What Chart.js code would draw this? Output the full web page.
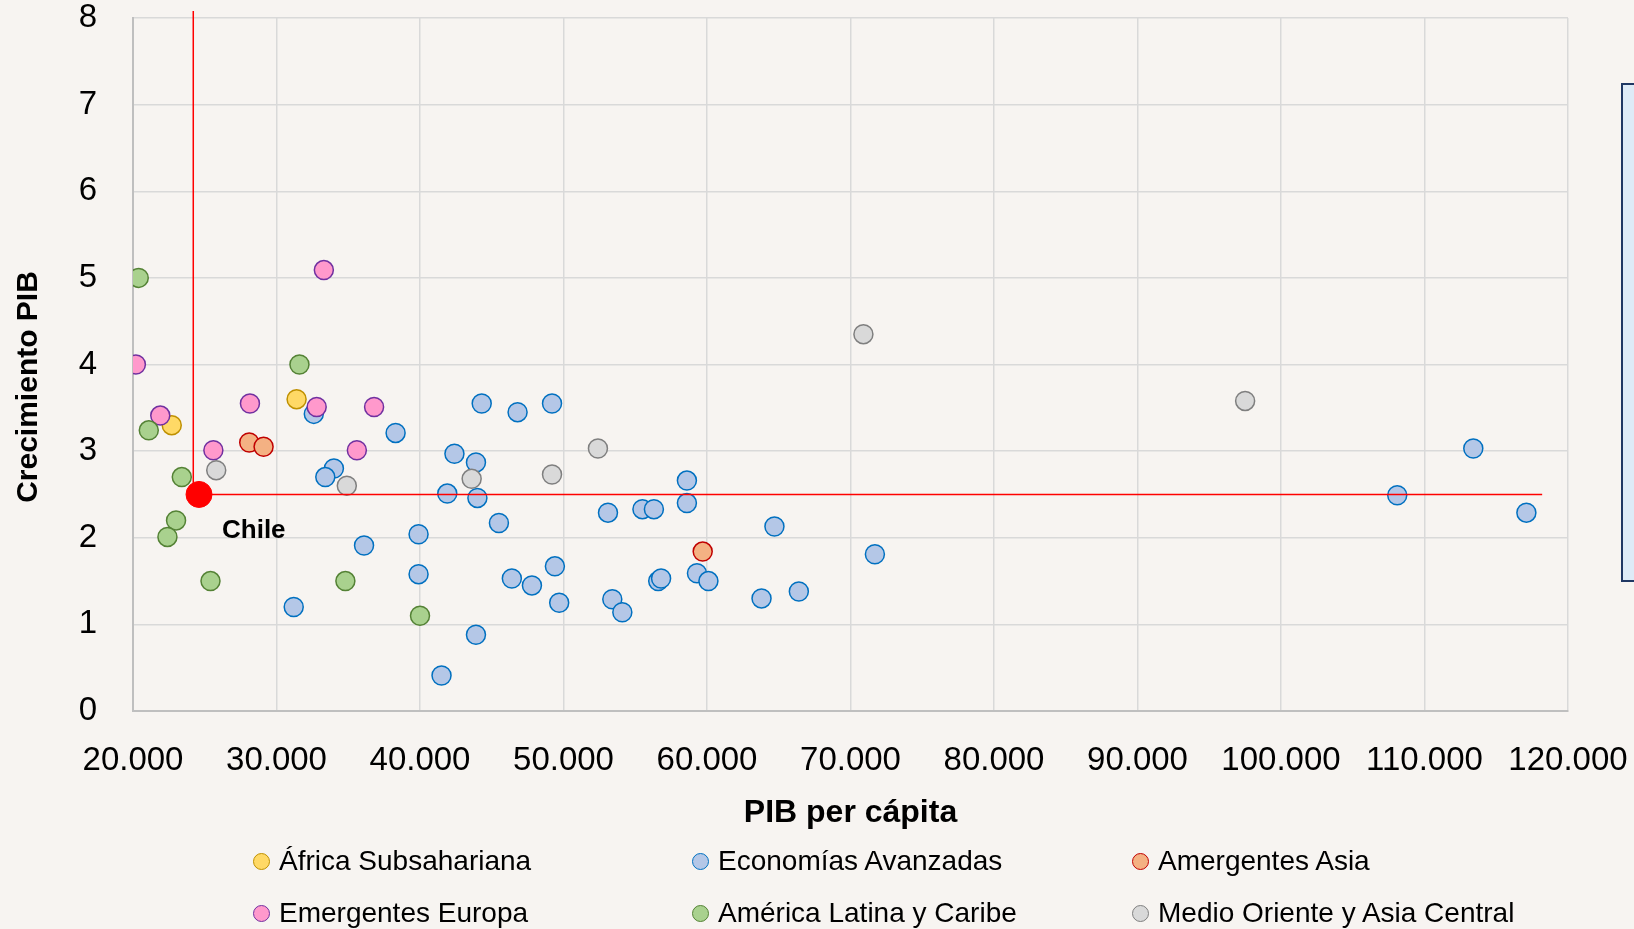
<!DOCTYPE html>
<html lang="es">
<head>
<meta charset="utf-8">
<title>Crecimiento PIB vs PIB per cápita</title>
<script src="https://cdn.jsdelivr.net/npm/chart.js@4/dist/chart.umd.min.js"></script>
<style>
  html, body { margin: 0; padding: 0; background: #f7f4f1; }
  #wrap { position: relative; width: 1634px; height: 929px; overflow: hidden; }
  #chart { position: absolute; left: 0; top: 0; }
  #sideBox {
    position: absolute; left: 1621px; top: 83px; width: 40px; height: 495px;
    background: #deebf7; border: 2px solid #203864;
  }
  .leg { position: absolute; font: 28px "Liberation Sans", Arial, sans-serif; color: #000;
         white-space: nowrap; line-height: 1; }
  .leg i { position: absolute; width: 15px; height: 15px; border-radius: 50%; border: 1.5px solid; }
</style>
</head>
<body>
<div id="wrap">
  <canvas id="chart" width="1634" height="929"></canvas>
  <div id="sideBox"></div>
  <div id="legend"></div>
</div>
<script>
// Datos por región: [PIB per cápita, crecimiento PIB]
const africaSub = [[31400, 3.60], [22700, 3.30]];
const economiasAvanzadas = [
  [32600, 3.43], [38300, 3.21], [34000, 2.80], [33400, 2.70], [42400, 2.97],
  [43900, 2.87], [41900, 2.51], [44000, 2.46], [45500, 2.17], [44300, 3.55],
  [46800, 3.45], [49200, 3.55], [39900, 2.04], [36100, 1.91], [39900, 1.58],
  [31200, 1.20], [43900, 0.88], [46400, 1.53], [47800, 1.45], [41500, 0.41],
  [49400, 1.67], [49700, 1.25], [53100, 2.29], [55500, 2.33], [56300, 2.33],
  [58600, 2.66], [58600, 2.40], [64700, 2.13], [53400, 1.29], [54100, 1.14],
  [56600, 1.50], [56800, 1.53], [59300, 1.59], [60100, 1.50], [63800, 1.30],
  [66400, 1.38], [71700, 1.81], [108100, 2.49], [113400, 3.03], [117100, 2.29]
];
const emergentesAsia = [[28100, 3.10], [29100, 3.05], [59700, 1.84]];
const emergentesEuropa = [
  [33300, 5.09], [20200, 4.00], [28150, 3.55], [32800, 3.51],
  [36800, 3.51], [21900, 3.41], [25600, 3.01], [35600, 3.01]
];
const americaLatina = [
  [20400, 5.00], [31600, 4.00], [21100, 3.24], [23400, 2.70], [23000, 2.20],
  [22400, 2.01], [25400, 1.50], [34800, 1.50], [40000, 1.10]
];
const medioOriente = [
  [25800, 2.78], [34900, 2.60], [43600, 2.68], [49200, 2.73],
  [52400, 3.03], [70900, 4.35], [97500, 3.58]
];
const chile = [[24600, 2.50]];
// líneas de referencia de Chile
const chileLines = [[24200, 8.08], [24200, 2.50], [118200, 2.50]];

const xTicks = [20000, 30000, 40000, 50000, 60000, 70000, 80000, 90000, 100000, 110000, 120000];

const FONT = "'Liberation Sans', Arial, sans-serif";
const toXY = arr => arr.map(p => ({ x: p[0], y: p[1] }));
const miles = v => String(v).replace(/\B(?=(\d{3})+(?!\d))/g, ".");
const noPad = s => { s.paddingTop = 0; s.paddingBottom = 0; s.paddingLeft = 0; s.paddingRight = 0; };

const grupos = [
  { label: "África Subsahariana", data: africaSub, fill: "#ffd966", border: "#bf9000", order: 7 },
  { label: "Economías Avanzadas", data: economiasAvanzadas, fill: "#b4c7e7", border: "#0070c0", order: 6 },
  { label: "Amergentes Asia", data: emergentesAsia, fill: "#f4b183", border: "#c00000", order: 5 },
  { label: "Emergentes Europa", data: emergentesEuropa, fill: "#ff99cc", border: "#7030a0", order: 4 },
  { label: "América Latina y Caribe", data: americaLatina, fill: "#a9d18e", border: "#548235", order: 3 },
  { label: "Medio Oriente y Asia Central", data: medioOriente, fill: "#d9d9d9", border: "#7f7f7f", order: 2 }
];

const datasets = grupos.map(g => ({
  label: g.label,
  data: toXY(g.data),
  backgroundColor: g.fill,
  borderColor: g.border,
  borderWidth: 1.5,
  pointRadius: 9.5,
  order: g.order
}));
datasets.push({
  label: "ref",
  data: toXY(chileLines),
  showLine: true,
  borderColor: "#ff0000",
  borderWidth: 1.5,
  pointRadius: 0,
  clip: false,
  order: 1
});
datasets.push({
  label: "Chile",
  data: toXY(chile),
  backgroundColor: "#ff0000",
  borderColor: "#ff0000",
  borderWidth: 1,
  pointRadius: 13,
  order: 0
});

// etiqueta de Chile y título del eje vertical
const extras = {
  id: "extras",
  afterDatasetsDraw(chart) {
    const ctx = chart.ctx;
    const idx = chart.data.datasets.findIndex(d => d.label === "Chile");
    const pt = chart.getDatasetMeta(idx).data[0];
    ctx.save();
    ctx.fillStyle = "#000";
    ctx.font = "bold 26px " + FONT;
    ctx.textAlign = "left";
    ctx.textBaseline = "alphabetic";
    ctx.fillText("Chile", pt.x + 23, pt.y + 44);

    ctx.translate(29, 387);
    ctx.rotate(-Math.PI / 2);
    ctx.font = "bold 30px " + FONT;
    ctx.textAlign = "center";
    ctx.textBaseline = "middle";
    ctx.fillText("Crecimiento PIB", 0, 0);
    ctx.restore();
  }
};

if (typeof Chart !== "undefined") {
  new Chart(document.getElementById("chart"), {
    type: "scatter",
    data: { datasets },
    plugins: [extras],
    options: {
      responsive: false,
      animation: false,
      layout: { padding: { top: 18, right: 66, bottom: 78, left: 0 } },
      plugins: { legend: { display: false }, tooltip: { enabled: false } },
      scales: {
        x: {
          type: "linear",
          min: 20000,
          max: 120000,
          afterBuildTicks: s => { s.ticks = xTicks.map(v => ({ value: v })); },
          afterFit: s => { s.height = 140; noPad(s); },
          ticks: {
            padding: 30,
            color: "#000",
            font: { family: FONT, size: 33 },
            maxRotation: 0,
            autoSkip: false,
            callback: v => miles(v)
          },
          grid: { color: "#d9d9d9", lineWidth: 1.5, drawTicks: false },
          border: { color: "#bfbfbf", width: 2 },
          title: {
            display: true,
            text: "PIB per cápita",
            color: "#000",
            font: { family: FONT, size: 32, weight: "bold" },
            padding: { top: 0, bottom: 19 }
          }
        },
        y: {
          min: 0,
          max: 8,
          afterFit: s => { s.width = 133; noPad(s); },
          ticks: {
            stepSize: 1,
            padding: 36,
            color: "#000",
            font: { family: FONT, size: 33 }
          },
          grid: { color: "#d9d9d9", lineWidth: 1.5, drawTicks: false },
          border: { color: "#bfbfbf", width: 2 }
        }
      }
    }
  });
} else {
  console.warn("Chart.js no cargado");
}

// leyenda en tres columnas
const legendPos = [[262, 862], [701, 862], [1141, 862], [262, 914], [701, 914], [1141, 914]];
const legend = document.getElementById("legend");
grupos.forEach((g, i) => {
  const [cx, cy] = legendPos[i];
  const el = document.createElement("div");
  el.className = "leg";
  el.style.left = (cx + 17) + "px";
  el.style.top = (cy - 15) + "px";
  el.innerHTML = '<i style="left:-26px;top:6px;background:' + g.fill + ';border-color:' + g.border + '"></i>' + g.label;
  legend.appendChild(el);
});
</script>
</body>
</html>
